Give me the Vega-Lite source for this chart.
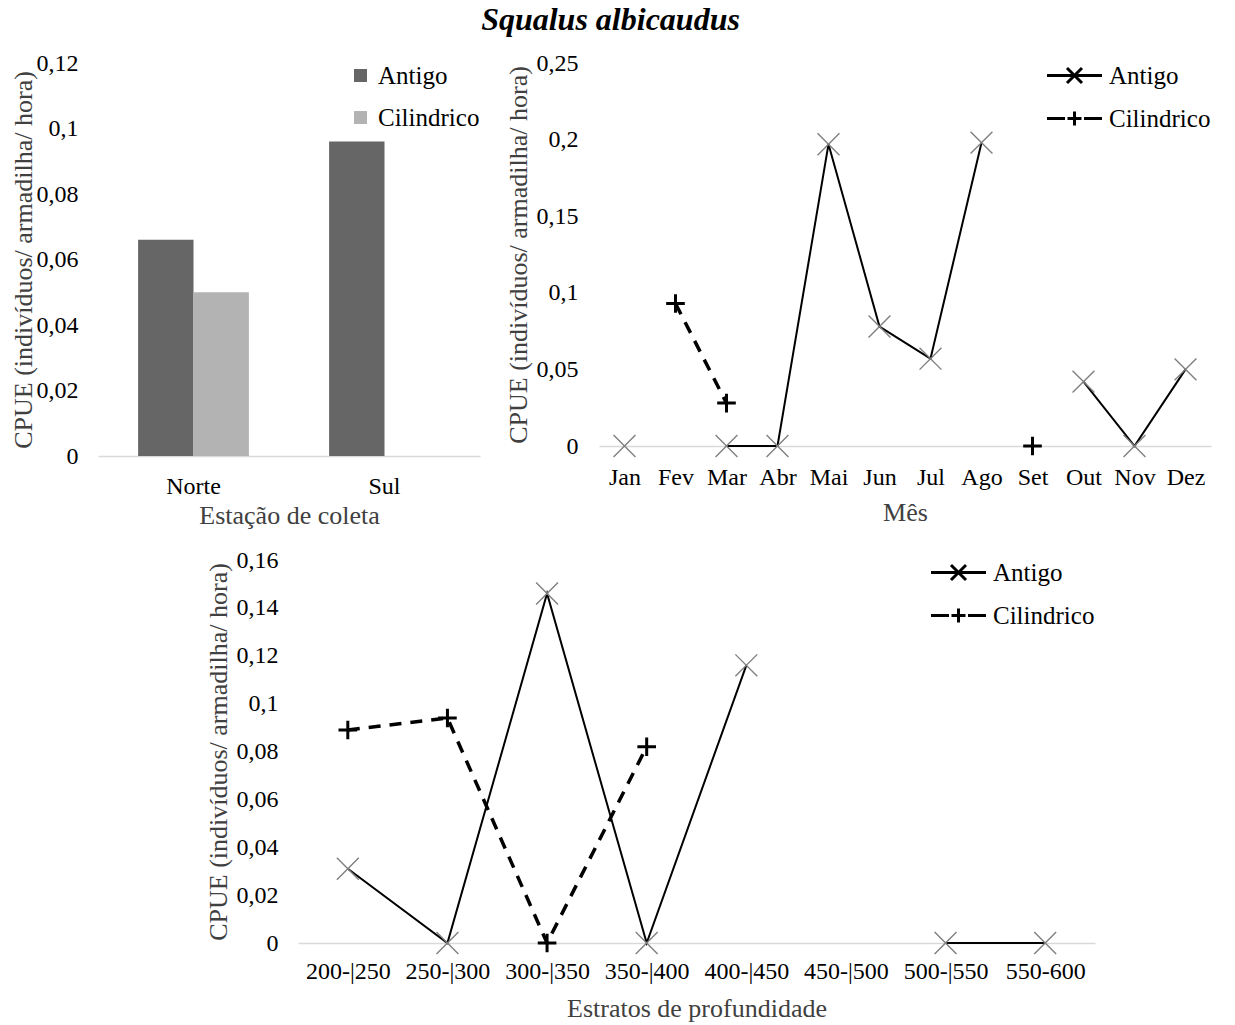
{
  "$schema": "https://vega.github.io/schema/vega-lite/v6.json",
  "description": "Squalus albicaudus CPUE",
  "padding": {"left": 10, "top": 4, "right": 5, "bottom": 5},
  "title": {
    "text": "Squalus albicaudus",
    "fontSize": 32,
    "fontStyle": "italic",
    "fontWeight": "bold",
    "color": "#000000",
    "anchor": "middle",
    "offset": 14
  },
  "config": {
    "font": "Liberation Serif",
    "view": {"stroke": null},
    "axis": {
      "grid": false,
      "ticks": false,
      "labelFontSize": 24,
      "labelColor": "#000000",
      "titleFontSize": 26,
      "titleFontWeight": "normal",
      "titleColor": "#404040",
      "domainColor": "#d9d9d9",
      "domainWidth": 1.5
    },
    "legend": {
      "labelFontSize": 25,
      "labelColor": "#000000",
      "orient": "top-right",
      "offset": 0
    }
  },
  "resolve": {
    "scale": {"color": "independent", "shape": "independent"}
  },
  "spacing": 20,
  "vconcat": [
    {
      "spacing": 25,
      "resolve": {
        "scale": {"color": "independent", "shape": "independent"}
      },
      "hconcat": [
        {
          "width": 382,
          "height": 393,
          "data": {
            "values": [
              {"estacao": "Norte", "tipo": "Antigo", "cpue": 0.066},
              {"estacao": "Norte", "tipo": "Cilindrico", "cpue": 0.050},
              {"estacao": "Sul", "tipo": "Antigo", "cpue": 0.096}
            ]
          },
          "mark": {"type": "bar"},
          "encoding": {
            "x": {
              "field": "estacao",
              "type": "nominal",
              "sort": ["Norte", "Sul"],
              "scale": {"paddingInner": 0.42, "paddingOuter": 0.21},
              "axis": {"title": "Estação  de coleta", "labelAngle": 0, "labelPadding": 18, "titlePadding": 4}
            },
            "xOffset": {
              "field": "tipo",
              "type": "nominal",
              "scale": {"domain": ["Antigo", "Cilindrico"], "paddingInner": 0, "paddingOuter": 0}
            },
            "y": {
              "field": "cpue",
              "type": "quantitative",
              "scale": {"domain": [0, 0.12]},
              "axis": {
                "title": "CPUE (indivíduos/  armadilha/  hora)",
                "values": [0, 0.02, 0.04, 0.06, 0.08, 0.1, 0.12],
                "labelExpr": "replace(format(datum.value, '~g'), '.', ',')",
                "domain": false,
                "labelPadding": 20,
                "titlePadding": 0
              }
            },
            "color": {
              "field": "tipo",
              "type": "nominal",
              "scale": {"domain": ["Antigo", "Cilindrico"], "range": ["#666666", "#b3b3b3"]},
              "legend": {
                "title": null,
                "symbolType": "square",
                "symbolSize": 170,
                "labelOffset": 5,
                "rowPadding": 16
              }
            }
          }
        },
        {
          "width": 612,
          "height": 383,
          "data": {
            "values": [
              {"mes": "Jan", "tipo": "Antigo", "cpue": 0},
              {"mes": "Fev", "tipo": "Antigo", "cpue": null},
              {"mes": "Mar", "tipo": "Antigo", "cpue": 0},
              {"mes": "Abr", "tipo": "Antigo", "cpue": 0},
              {"mes": "Mai", "tipo": "Antigo", "cpue": 0.197},
              {"mes": "Jun", "tipo": "Antigo", "cpue": 0.078},
              {"mes": "Jul", "tipo": "Antigo", "cpue": 0.057},
              {"mes": "Ago", "tipo": "Antigo", "cpue": 0.198},
              {"mes": "Set", "tipo": "Antigo", "cpue": null},
              {"mes": "Out", "tipo": "Antigo", "cpue": 0.042},
              {"mes": "Nov", "tipo": "Antigo", "cpue": 0},
              {"mes": "Dez", "tipo": "Antigo", "cpue": 0.050},
              {"mes": "Fev", "tipo": "Cilindrico", "cpue": 0.093},
              {"mes": "Mar", "tipo": "Cilindrico", "cpue": 0.028},
              {"mes": "Abr", "tipo": "Cilindrico", "cpue": null},
              {"mes": "Set", "tipo": "Cilindrico", "cpue": 0}
            ]
          },
          "encoding": {
            "x": {
              "field": "mes",
              "type": "ordinal",
              "sort": ["Jan", "Fev", "Mar", "Abr", "Mai", "Jun", "Jul", "Ago", "Set", "Out", "Nov", "Dez"],
              "scale": {"padding": 0.5},
              "axis": {"title": "Mês", "labelAngle": 0, "labelPadding": 19, "titlePadding": 10}
            },
            "y": {
              "field": "cpue",
              "type": "quantitative",
              "scale": {"domain": [0, 0.25]},
              "axis": {
                "title": "CPUE (indivíduos/  armadilha/  hora)",
                "values": [0, 0.05, 0.1, 0.15, 0.2, 0.25],
                "labelExpr": "replace(format(datum.value, '~g'), '.', ',')",
                "domain": false,
                "labelPadding": 21,
                "titlePadding": 5
              }
            }
          },
          "layer": [
            {
              "transform": [{"filter": "datum.tipo === 'Antigo'"}],
              "mark": {"type": "line", "color": "#000000", "strokeWidth": 2, "invalid": "break-paths-show-domains"}
            },
            {
              "transform": [{"filter": "datum.tipo === 'Cilindrico'"}],
              "mark": {"type": "line", "color": "#000000", "strokeWidth": 3.5, "strokeDash": [12, 9], "invalid": "break-paths-show-domains"}
            },
            {
              "transform": [{"filter": "datum.tipo === 'Antigo'"}],
              "mark": {"type": "point", "filled": false, "size": 480, "opacity": 1, "shape": "M-1,-1L1,1M-1,1L1,-1", "color": "#7f7f7f", "strokeWidth": 1.4}
            },
            {
              "transform": [{"filter": "datum.tipo === 'Cilindrico'"}],
              "mark": {"type": "point", "filled": false, "size": 480, "opacity": 1, "shape": "M-0.85,0L0.85,0M0,-0.85L0,0.85", "color": "#000000", "strokeWidth": 3}
            },
            {
              "mark": {"type": "point", "filled": false, "opacity": 0, "color": "#000000"},
              "encoding": {
                "shape": {
                  "field": "tipo",
                  "type": "nominal",
                  "scale": {
                    "domain": ["Antigo", "Cilindrico"],
                    "range": [
                      "M-2.75,0L2.75,0M-0.75,-0.75L0.75,0.75M-0.75,0.75L0.75,-0.75",
                      "M-2.75,0L-0.95,0M-0.7,0L0.7,0M0,-0.7L0,0.7M0.95,0L2.75,0"
                    ]
                  },
                  "legend": {
                    "title": null,
                    "symbolSize": 400,
                    "symbolOpacity": 1,
                    "symbolStrokeColor": "#000000",
                    "symbolStrokeWidth": 3,
                    "labelOffset": 22,
                    "rowPadding": 16
                  }
                }
              }
            }
          ]
        }
      ]
    },
    {
      "spacing": 0,
      "resolve": {
        "scale": {"color": "independent", "shape": "independent"}
      },
      "hconcat": [
        {
          "width": 107,
          "height": 383,
          "data": {"values": []},
          "mark": "point",
          "encoding": {}
        },
        {
          "width": 797,
          "height": 383,
          "data": {
            "values": [
              {"estrato": "200-|250", "tipo": "Antigo", "cpue": 0.031},
              {"estrato": "250-|300", "tipo": "Antigo", "cpue": 0},
              {"estrato": "300-|350", "tipo": "Antigo", "cpue": 0.146},
              {"estrato": "350-|400", "tipo": "Antigo", "cpue": 0},
              {"estrato": "400-|450", "tipo": "Antigo", "cpue": 0.116},
              {"estrato": "450-|500", "tipo": "Antigo", "cpue": null},
              {"estrato": "500-|550", "tipo": "Antigo", "cpue": 0},
              {"estrato": "550-600", "tipo": "Antigo", "cpue": 0},
              {"estrato": "200-|250", "tipo": "Cilindrico", "cpue": 0.089},
              {"estrato": "250-|300", "tipo": "Cilindrico", "cpue": 0.094},
              {"estrato": "300-|350", "tipo": "Cilindrico", "cpue": 0},
              {"estrato": "350-|400", "tipo": "Cilindrico", "cpue": 0.082}
            ]
          },
          "encoding": {
            "x": {
              "field": "estrato",
              "type": "ordinal",
              "sort": ["200-|250", "250-|300", "300-|350", "350-|400", "400-|450", "450-|500", "500-|550", "550-600"],
              "scale": {"padding": 0.5},
              "axis": {"title": "Estratos  de profundidade", "labelAngle": 0, "labelPadding": 16, "titlePadding": 12}
            },
            "y": {
              "field": "cpue",
              "type": "quantitative",
              "scale": {"domain": [0, 0.16]},
              "axis": {
                "title": "CPUE (indivíduos/  armadilha/  hora)",
                "values": [0, 0.02, 0.04, 0.06, 0.08, 0.1, 0.12, 0.14, 0.16],
                "labelExpr": "replace(format(datum.value, '~g'), '.', ',')",
                "domain": false,
                "labelPadding": 20,
                "titlePadding": 5
              }
            }
          },
          "layer": [
            {
              "transform": [{"filter": "datum.tipo === 'Antigo'"}],
              "mark": {"type": "line", "color": "#000000", "strokeWidth": 2, "invalid": "break-paths-show-domains"}
            },
            {
              "transform": [{"filter": "datum.tipo === 'Cilindrico'"}],
              "mark": {"type": "line", "color": "#000000", "strokeWidth": 3.5, "strokeDash": [12, 9], "invalid": "break-paths-show-domains"}
            },
            {
              "transform": [{"filter": "datum.tipo === 'Antigo'"}],
              "mark": {"type": "point", "filled": false, "size": 480, "opacity": 1, "shape": "M-1,-1L1,1M-1,1L1,-1", "color": "#7f7f7f", "strokeWidth": 1.4}
            },
            {
              "transform": [{"filter": "datum.tipo === 'Cilindrico'"}],
              "mark": {"type": "point", "filled": false, "size": 480, "opacity": 1, "shape": "M-0.85,0L0.85,0M0,-0.85L0,0.85", "color": "#000000", "strokeWidth": 3}
            },
            {
              "mark": {"type": "point", "filled": false, "opacity": 0, "color": "#000000"},
              "encoding": {
                "shape": {
                  "field": "tipo",
                  "type": "nominal",
                  "scale": {
                    "domain": ["Antigo", "Cilindrico"],
                    "range": [
                      "M-2.75,0L2.75,0M-0.75,-0.75L0.75,0.75M-0.75,0.75L0.75,-0.75",
                      "M-2.75,0L-0.95,0M-0.7,0L0.7,0M0,-0.7L0,0.7M0.95,0L2.75,0"
                    ]
                  },
                  "legend": {
                    "title": null,
                    "symbolSize": 400,
                    "symbolOpacity": 1,
                    "symbolStrokeColor": "#000000",
                    "symbolStrokeWidth": 3,
                    "labelOffset": 22,
                    "rowPadding": 16
                  }
                }
              }
            }
          ]
        }
      ]
    }
  ]
}
